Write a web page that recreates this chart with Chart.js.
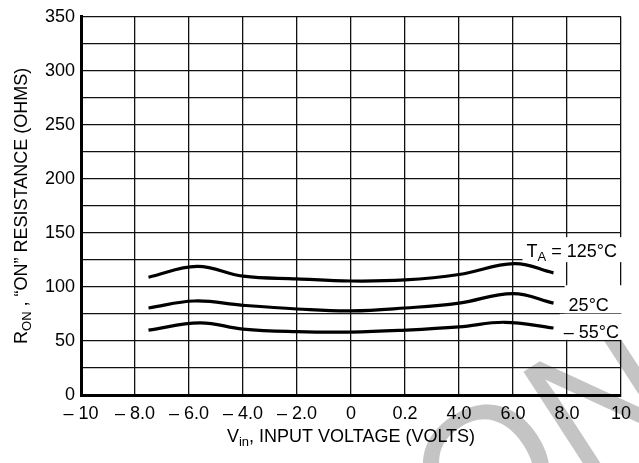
<!DOCTYPE html>
<html lang="en">
<head>
<meta charset="UTF-8">
<title>ON Resistance vs Input Voltage</title>
<style>
  html, body { margin: 0; padding: 0; background: #fff; }
  #wrap { width: 639px; height: 463px; }
</style>
</head>
<body>
<div id="wrap"><canvas id="ronChart" width="639" height="463"></canvas></div>
<script src="https://cdn.jsdelivr.net/npm/chart.js@4"></script>
<script>
// tick labels as printed on the sheet (the "0.2" is really 2.0 in the original)
const vinTickLabels = ['– 10', '– 8.0', '– 6.0', '– 4.0', '– 2.0', '0', '0.2', '4.0', '6.0', '8.0', '10'];

// TA = 125°C
const vin125 = [-7.5, -5.7, -4.0, -2.0, 0.0, 2.0, 4.0, 6.05, 7.5];
const ron125 = [109, 119, 110, 107.5, 105.5, 106.5, 111.5, 121.5, 113];
// 25°C
const vin25 = [-7.5, -5.8, -4.0, -2.0, 0.0, 2.0, 4.0, 6.0, 7.5];
const ron25 = [80.5, 87, 83, 79.6, 77.8, 80.5, 85, 93.8, 85];
// -55°C
const vinM55 = [-7.5, -5.6, -4.0, -2.0, 0.0, 2.0, 4.0, 5.7, 7.5];
const ronM55 = [60, 66.8, 61, 58.6, 58.2, 60, 63, 67.3, 62];

// curve labels: [parts, x, y] in data units
const curveLabels = [
  [[['T'], ['A', 1], [' = 125°C']], 6.5, 127.6],
  [[['25°C']], 8.06, 77.5],
  [[['– 55°C']], 7.88, 52.9]
];

const FONT = '"Liberation Sans", Arial, sans-serif';
const FS = 18;

function pts(xs, ys) {
  return xs.map((x, i) => ({ x: x, y: ys[i] }));
}

// text with subscripts, parts = [[text, isSub], ...]
function richWidth(ctx, parts, size) {
  let w = 0;
  parts.forEach(p => {
    ctx.font = (p[1] ? Math.round(size * 0.72) : size) + 'px ' + FONT;
    w += ctx.measureText(p[0]).width;
  });
  return w;
}
function drawRich(ctx, parts, x, y, size) {
  let cx = x;
  parts.forEach(p => {
    ctx.font = (p[1] ? Math.round(size * 0.72) : size) + 'px ' + FONT;
    ctx.fillText(p[0], cx, p[1] ? y + 4 : y);
    cx += ctx.measureText(p[0]).width;
  });
}

const sheetPlugin = {
  id: 'sheet',
  beforeDraw(chart) {
    const ctx = chart.ctx;
    ctx.save();
    ctx.fillStyle = '#fff';
    ctx.fillRect(0, 0, chart.width, chart.height);
    // grey watermark
    ctx.translate(462, 558);
    ctx.rotate(-33 * Math.PI / 180);
    ctx.fillStyle = '#c4c4c4';
    ctx.font = '178px ' + FONT;
    ctx.textBaseline = 'alphabetic';
    ctx.fillText('ON', 0, 0);
    ctx.restore();
  },
  beforeDatasetsDraw(chart) {
    const ctx = chart.ctx;
    const xs = chart.scales.x, ys = chart.scales.y;
    const pad = [[20, 5], [26, 2], [24, 2]];
    ctx.save();
    ctx.fillStyle = '#fff';
    curveLabels.forEach((l, i) => {
      const x = xs.getPixelForValue(l[1]);
      const y = ys.getPixelForValue(l[2]);
      ctx.fillRect(x - 4, y - pad[i][0], chart.chartArea.right + 3 - (x - 4), pad[i][0] + pad[i][1]);
    });
    ctx.restore();
  },
  afterDraw(chart) {
    const ctx = chart.ctx;
    const xs = chart.scales.x, ys = chart.scales.y;
    const area = chart.chartArea;
    ctx.save();
    ctx.fillStyle = '#000';
    ctx.textBaseline = 'alphabetic';
    ctx.textAlign = 'left';
    curveLabels.forEach(l => {
      drawRich(ctx, l[0], xs.getPixelForValue(l[1]), ys.getPixelForValue(l[2]), FS);
    });
    // x axis title
    const xt = [['V'], ['in', 1], [', INPUT VOLTAGE (VOLTS)']];
    const xw = richWidth(ctx, xt, FS);
    drawRich(ctx, xt, (area.left + area.right) / 2 - xw / 2, 442, FS);
    // y axis title
    const yt = [['R'], ['ON', 1], [' , “ON” RESISTANCE (OHMS)']];
    const yw = richWidth(ctx, yt, FS);
    ctx.translate(27, (area.top + area.bottom) / 2);
    ctx.rotate(-Math.PI / 2);
    drawRich(ctx, yt, -yw / 2, 0, FS);
    ctx.restore();
  }
};

const lineStyle = {
  borderColor: '#000',
  borderWidth: 3.2,
  pointRadius: 0,
  fill: false,
  tension: 0.4,
  showLine: true
};

new Chart(document.getElementById('ronChart'), {
  type: 'line',
  data: {
    datasets: [
      Object.assign({ label: '125°C', data: pts(vin125, ron125) }, lineStyle),
      Object.assign({ label: '25°C', data: pts(vin25, ron25) }, lineStyle),
      Object.assign({ label: '-55°C', data: pts(vinM55, ronM55) }, lineStyle)
    ]
  },
  options: {
    responsive: false,
    animation: false,
    events: [],
    layout: { padding: { left: 0, right: 11, top: 11, bottom: 0 } },
    plugins: { legend: { display: false }, tooltip: { enabled: false } },
    scales: {
      x: {
        type: 'linear',
        min: -10,
        max: 10,
        afterFit(s) { s.height = 68; },
        afterBuildTicks(s) {
          s.ticks = vinTickLabels.map((t, i) => ({ value: -10 + i * 2 }));
        },
        ticks: {
          color: '#000',
          padding: 8,
          maxRotation: 0,
          autoSkip: false,
          font: { family: FONT, size: FS },
          callback: (v, i) => vinTickLabels[i]
        },
        grid: { color: '#111', lineWidth: 1.3, drawTicks: false },
        border: { color: '#000', width: 3 }
      },
      y: {
        min: 0,
        max: 350,
        afterFit(s) { s.width = 81; },
        ticks: {
          stepSize: 25,
          color: '#000',
          padding: 6,
          font: { family: FONT, size: FS },
          callback: v => (v % 50 === 0 ? String(v) : '')
        },
        grid: { color: '#111', lineWidth: 1.3, drawTicks: false },
        border: { color: '#000', width: 3 }
      }
    }
  },
  plugins: [sheetPlugin]
});
</script>
</body>
</html>
